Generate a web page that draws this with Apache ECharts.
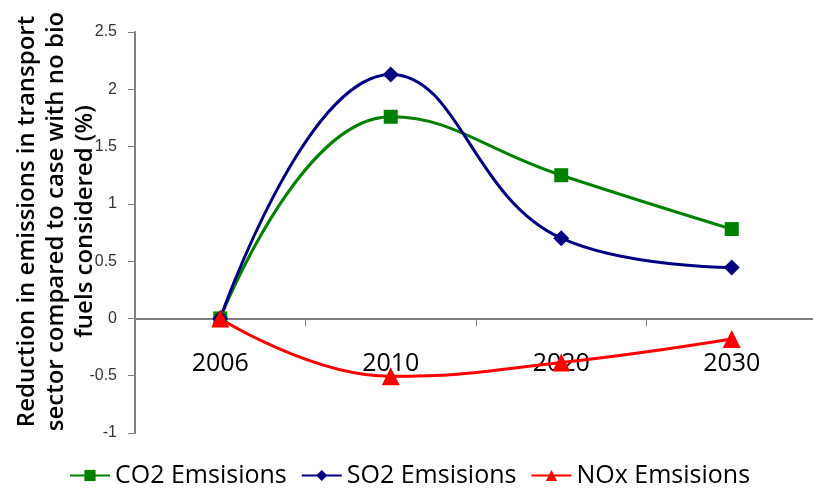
<!DOCTYPE html>
<html>
<head>
<meta charset="utf-8">
<script src="https://cdn.jsdelivr.net/npm/echarts@6/dist/echarts.min.js"></script>
<style>
  html, body { margin: 0; padding: 0; background: #fff; }
  #chart { width: 813px; height: 493px; }
</style>
</head>
<body>
<div id="chart"></div>
<script>
const years = ["2006", "2010", "2020", "2030"];
const co2 = [0, 1.76, 1.25, 0.78];
const so2 = [0, 2.13, 0.70, 0.445];
const nox = [0, -0.505, -0.385, -0.18];
const yTicks = { min: -1, max: 2.5, step: 0.5 };

const chart = echarts.init(document.getElementById("chart"));

const lineSeries = (name, data, color, symbol, size) => ({
  name: name,
  type: "line",
  data: data,
  smooth: 0.45,
  symbol: symbol,
  symbolSize: size,
  showAllSymbol: true,
  lineStyle: { color: color, width: 3 },
  itemStyle: { color: color },
  z: 3
});

chart.setOption({
  animation: false,
  grid: { left: 135, right: -4, top: 32, bottom: 60, outerBoundsMode: "none", containLabel: false },
  legend: {
    bottom: 0,
    left: 64,
    itemWidth: 40,
    itemHeight: 14,
    itemGap: 14,
    textStyle: { fontFamily: "Open Sans", fontSize: 25, color: "#000" },
    data: ["CO2 Emsisions", "SO2 Emsisions", "NOx Emsisions"]
  },
  xAxis: {
    type: "category",
    data: years,
    boundaryGap: true,
    axisLine: { onZero: true, lineStyle: { color: "#808080", width: 2 } },
    axisTick: { show: true, length: 8, lineStyle: { color: "#808080" } },
    axisLabel: { margin: -82, fontSize: 25, color: "#000", fontFamily: "Open Sans" },
    splitLine: { show: false }
  },
  yAxis: {
    type: "value",
    min: yTicks.min,
    max: yTicks.max,
    interval: yTicks.step,
    name: "Reduction in emissions in transport\nsector compared to case with no bio\nfuels considered (%)",
    nameLocation: "middle",
    nameRotate: 90,
    nameGap: 35,
    nameMoveOverlap: false,
    nameTextStyle: {
      fontFamily: "Open Sans", fontWeight: 600, fontSize: 24, lineHeight: 29,
      color: "#000", padding: [0, 0, 0, 22]
    },
    axisLine: { show: true, lineStyle: { color: "#808080", width: 2 } },
    axisTick: { show: true, length: 7, lineStyle: { color: "#808080" } },
    axisLabel: { fontSize: 16, color: "#333", fontFamily: "Liberation Sans", margin: 18 },
    splitLine: { show: false }
  },
  series: [
    lineSeries("CO2 Emsisions", co2, "#008000", "rect", 14),
    lineSeries("SO2 Emsisions", so2, "#000080", "diamond", 16),
    lineSeries("NOx Emsisions", nox, "#ff0000", "triangle", 18)
  ]
});
</script>
</body>
</html>
